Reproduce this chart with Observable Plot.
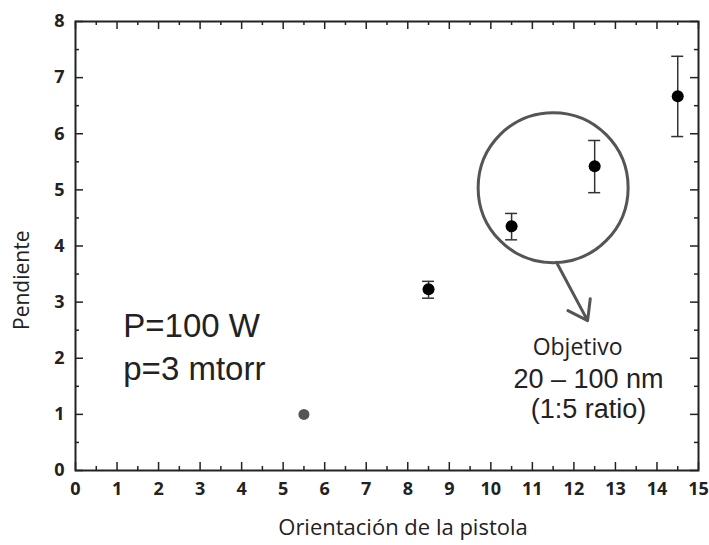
<!DOCTYPE html>
<html>
<head>
<meta charset="utf-8">
<script src="https://cdn.jsdelivr.net/npm/d3@7"></script>
<script src="https://cdn.jsdelivr.net/npm/@observablehq/plot@0.6"></script>
<style>
  html, body { margin: 0; padding: 0; background: #fff; }
  #chart svg { display: block; }
</style>
</head>
<body>
<div id="chart"></div>
<script>
// Data
const orientation = [5.5, 8.5, 10.5, 12.5, 14.5];
const slope       = [1.0, 3.23, 4.35, 5.42, 6.67];
const errLow      = [null, 3.07, 4.11, 4.95, 5.95];
const errHigh     = [null, 3.37, 4.58, 5.88, 7.38];
const highlight   = [true, false, false, false, false]; // grey first point

const xMajor = d3.range(0, 16, 1);
const xMinor = d3.range(0.5, 15, 1);
const yMajor = d3.range(0, 9, 1);
const yMinor = d3.range(0.5, 8, 1);

const xLabel = "Orientación de la pistola";
const yLabel = "Pendiente";
const condText = "P=100 W\np=3 mtorr";
const targetTitle = "Objetivo";
const targetLines = ["20 – 100 nm", "(1:5 ratio)"];
// circled region and arrow (data coordinates)
const circleCenter = {x: 11.5, y: 5.04};
const arrowSeg = {x1: 11.58, y1: 3.71, x2: 12.33, y2: 2.67};

const points = orientation.map((x, i) => ({x, y: slope[i], lo: errLow[i], hi: errHigh[i], grey: highlight[i]}));
const withErr = points.filter(d => d.lo != null);
const greyPts = points.filter(d => d.grey);
const blackPts = points.filter(d => !d.grey);

const ink = "#222";
const grey = "#555";

const chart = Plot.plot({
  width: 709,
  height: 545,
  marginLeft: 75,
  marginRight: 11,
  marginTop: 21,
  marginBottom: 75,
  style: {fontFamily: "'Open Sans', sans-serif", fontSize: "18px", color: ink, background: "#fff"},
  x: {domain: [0, 15], axis: null},
  y: {domain: [0, 8], axis: null},
  marks: [
    // tick labels
    Plot.text(xMajor, {x: d => d, frameAnchor: "bottom", dy: 12, lineAnchor: "top", text: d => String(d), fontWeight: "bold", fontSize: 18, fill: ink}),
    Plot.text(yMajor, {y: d => d, frameAnchor: "left", dx: -11, textAnchor: "end", text: d => String(d), fontWeight: "bold", fontSize: 18, fill: ink}),
    // inward ticks, all four sides
    Plot.ruleX(xMajor, {x: d => d, y1: 0, y2: 0, insetTop: -8, stroke: ink, strokeWidth: 1.5}),
    Plot.ruleX(xMinor, {x: d => d, y1: 0, y2: 0, insetTop: -4, stroke: ink, strokeWidth: 1.5}),
    Plot.ruleX(xMajor, {x: d => d, y1: 8, y2: 8, insetBottom: -8, stroke: ink, strokeWidth: 1.5}),
    Plot.ruleX(xMinor, {x: d => d, y1: 8, y2: 8, insetBottom: -4, stroke: ink, strokeWidth: 1.5}),
    Plot.ruleY(yMajor, {y: d => d, x1: 0, x2: 0, insetRight: -8, stroke: ink, strokeWidth: 1.5}),
    Plot.ruleY(yMinor, {y: d => d, x1: 0, x2: 0, insetRight: -4, stroke: ink, strokeWidth: 1.5}),
    Plot.ruleY(yMajor, {y: d => d, x1: 15, x2: 15, insetLeft: -8, stroke: ink, strokeWidth: 1.5}),
    Plot.ruleY(yMinor, {y: d => d, x1: 15, x2: 15, insetLeft: -4, stroke: ink, strokeWidth: 1.5}),
    Plot.frame({stroke: ink, strokeWidth: 2}),
    // axis titles
    Plot.text([xLabel], {frameAnchor: "bottom", dx: 16, dy: 64, text: d => d, fontSize: 22, fill: ink, lineAnchor: "bottom"}),
    Plot.text([yLabel], {x: 0, y: 3.39, dx: -53, text: d => d, rotate: -90, fontSize: 21, fill: ink}),
    // error bars
    Plot.ruleX(withErr, {x: "x", y1: "lo", y2: "hi", stroke: "#333", strokeWidth: 1.5}),
    Plot.ruleY(withErr, {y: "lo", x1: "x", x2: "x", insetLeft: -6, insetRight: -6, stroke: "#333", strokeWidth: 1.5}),
    Plot.ruleY(withErr, {y: "hi", x1: "x", x2: "x", insetLeft: -6, insetRight: -6, stroke: "#333", strokeWidth: 1.5}),
    // points
    Plot.dot(blackPts, {x: "x", y: "y", r: 6, fill: "#000", stroke: null}),
    Plot.dot(greyPts, {x: "x", y: "y", r: 5.5, fill: grey, stroke: null}),
    // circle annotation and arrow
    Plot.dot([circleCenter], {x: "x", y: "y", r: 75, fill: "none", stroke: grey, strokeWidth: 3}),
    Plot.arrow([arrowSeg], {x1: "x1", y1: "y1", x2: "x2", y2: "y2", stroke: grey, strokeWidth: 3, headLength: 16, headAngle: 70}),
    // text annotations
    Plot.text([condText], {x: 1.15, y: 1.62, text: d => d, textAnchor: "start", lineAnchor: "bottom", lineHeight: 1.28, fontSize: 33, fontFamily: "'Liberation Sans', Arial, sans-serif", fill: ink}),
    Plot.text([targetTitle], {x: 12.09, y: 2.05, text: d => d, lineAnchor: "bottom", fontSize: 23, fill: ink}),
    Plot.text([targetLines.join("\n")], {x: 12.35, y: 0.94, text: d => d, lineAnchor: "bottom", lineHeight: 1.12, fontSize: 27, fontFamily: "'Liberation Sans', Arial, sans-serif", fill: ink})
  ]
});

document.getElementById("chart").appendChild(chart);
</script>
</body>
</html>
